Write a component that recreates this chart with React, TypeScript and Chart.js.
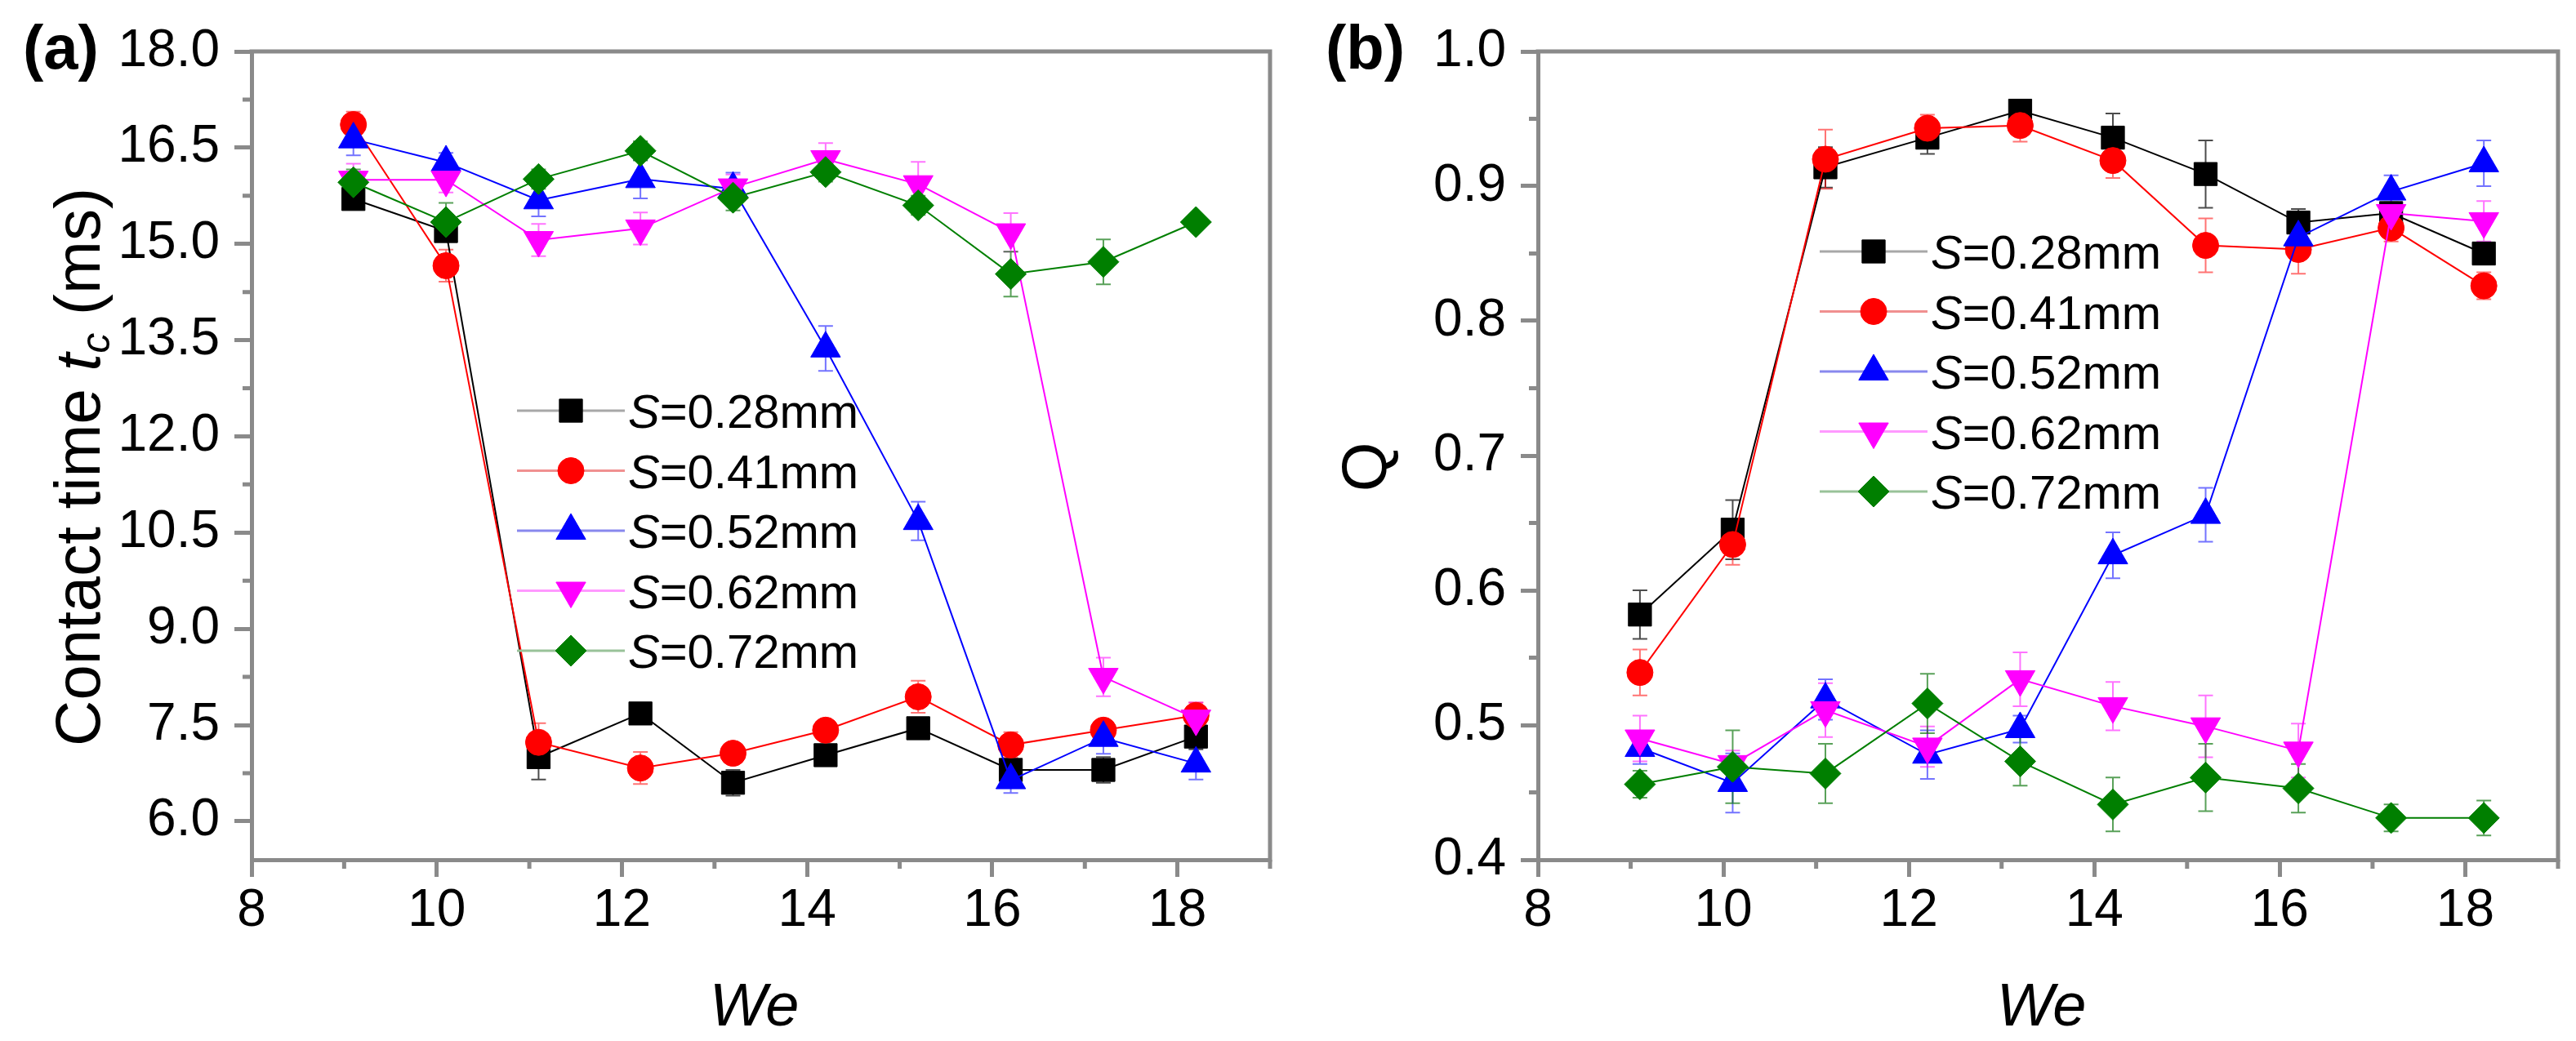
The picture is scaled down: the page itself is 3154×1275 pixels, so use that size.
import { useEffect, useRef } from 'react'
import { Chart, registerables } from 'chart.js'
import { drawPoint } from 'chart.js/helpers'

Chart.register(...registerables)

const FONT = "'Liberation Sans', Arial, Helvetica, sans-serif"
const AXIS = '#8a8a8a'

// shared x values (We) and x axis ticks
const weValues = [9.1, 10.1, 11.1, 12.2, 13.2, 14.2, 15.2, 16.2, 17.2, 18.2]
const xTicks = [8, 10, 12, 14, 16, 18]
const xMinorTicks = [9, 11, 13, 15, 17, 19]

const spacings = ['0.28', '0.41', '0.52', '0.62', '0.72']
const colors = ['#000000', '#ff0000', '#0000ff', '#ff00ff', '#007f00']
const errColors = ['rgba(0,0,0,0.7)', 'rgba(255,0,0,0.55)', 'rgba(0,0,255,0.55)', 'rgba(255,0,255,0.55)', 'rgba(0,110,0,0.65)']
const legendLineColors = ['#a8a8a8', '#f09090', '#8888ee', '#ff99ff', '#99c299']
const markers = ['rect', 'circle', 'triangle', 'triangle', 'rectRot']
const markerRotation = [0, 0, 0, 180, 0]
const markerRadius = [20, 16, 21, 21, 19]

// (a) contact time t_c (ms)
const tcTicks = [6, 7.5, 9, 10.5, 12, 13.5, 15, 16.5, 18]
const tcMinor = [6.75, 8.25, 9.75, 11.25, 12.75, 14.25, 15.75, 17.25]
const tc028 = [15.7, 15.2, 7.0, 7.68, 6.6, 7.03, 7.45, 6.8, 6.8, 7.32]
const tc041 = [16.86, 14.66, 7.23, 6.83, 7.06, 7.42, 7.94, 7.19, 7.42, 7.65]
const tc052 = [16.63, 16.27, 15.68, 16.01, 15.86, 13.37, 10.68, 6.64, 7.3, 6.9]
const tc062 = [16.0, 16.0, 15.06, 15.24, 15.88, 16.32, 15.93, 15.18, 8.25, 7.6]
const tc072 = [15.96, 15.34, 16.01, 16.45, 15.72, 16.12, 15.6, 14.53, 14.72, 15.34]
const tcErr028 = [0.1, 0.15, 0.35, 0.1, 0.2, 0.15, 0.15, 0.15, 0.2, 0.2]
const tcErr041 = [0.2, 0.25, 0.3, 0.25, 0.15, 0.15, 0.25, 0.2, 0.15, 0.2]
const tcErr052 = [0.25, 0.15, 0.25, 0.3, 0.25, 0.35, 0.3, 0.2, 0.25, 0.25]
const tcErr062 = [0.25, 0.2, 0.25, 0.25, 0.2, 0.25, 0.35, 0.3, 0.3, 0.25]
const tcErr072 = [0.2, 0.3, 0.15, 0.15, 0.2, 0.15, 0.15, 0.35, 0.35, 0.1]

// (b) Q
const qTicks = [0.4, 0.5, 0.6, 0.7, 0.8, 0.9, 1.0]
const qMinor = [0.45, 0.55, 0.65, 0.75, 0.85, 0.95]
const q028 = [0.582, 0.645, 0.914, 0.936, 0.956, 0.936, 0.909, 0.873, 0.88, 0.85]
const q041 = [0.539, 0.634, 0.92, 0.943, 0.945, 0.919, 0.856, 0.853, 0.869, 0.826]
const q052 = [0.483, 0.457, 0.519, 0.478, 0.497, 0.626, 0.656, 0.862, 0.896, 0.917]
const q062 = [0.49, 0.471, 0.511, 0.484, 0.534, 0.514, 0.499, 0.481, 0.88, 0.874]
const q072 = [0.456, 0.469, 0.464, 0.516, 0.473, 0.441, 0.461, 0.453, 0.431, 0.431]
const qErr028 = [0.018, 0.022, 0.015, 0.012, 0.008, 0.018, 0.025, 0.01, 0.008, 0.008]
const qErr041 = [0.017, 0.015, 0.022, 0.01, 0.012, 0.013, 0.02, 0.018, 0.01, 0.01]
const qErr052 = [0.012, 0.022, 0.015, 0.018, 0.01, 0.017, 0.02, 0.015, 0.012, 0.017]
const qErr062 = [0.017, 0.01, 0.02, 0.015, 0.02, 0.018, 0.023, 0.02, 0.015, 0.015]
const qErr072 = [0.01, 0.027, 0.022, 0.022, 0.018, 0.02, 0.025, 0.018, 0.01, 0.013]

type Part = [string, 'n' | 'i' | 'sub']

type Panel = {
    tag: string
    tagX: number
    yTitle: Part[]
    yMin: number
    yMax: number
    yTicks: number[]
    yMinor: number[]
    values: number[][]
    errors: number[][]
    yWidth: number
    padRight: number
    legendX: number
    legendY: number
}

const panels: Panel[] = [
    {
        tag: '(a)', tagX: 28,
        yTitle: [['Contact time ', 'n'], ['t', 'i'], ['c', 'sub'], [' (ms)', 'n']],
        yMin: 5.4, yMax: 18, yTicks: tcTicks, yMinor: tcMinor,
        values: [tc028, tc041, tc052, tc062, tc072],
        errors: [tcErr028, tcErr041, tcErr052, tcErr062, tcErr072],
        yWidth: 308, padRight: 15, legendX: 325, legendY: 440,
    },
    {
        tag: '(b)', tagX: 46,
        yTitle: [['Q', 'n']],
        yMin: 0.4, yMax: 1.0, yTicks: qTicks, yMinor: qMinor,
        values: [q028, q041, q052, q062, q072],
        errors: [qErr028, qErr041, qErr052, qErr062, qErr072],
        yWidth: 306, padRight: 21, legendX: 345, legendY: 245,
    },
]

const W = 1577
const H = 1275

function partFont(style: Part[1]) {
    if (style === 'i') return `italic 78px ${FONT}`
    if (style === 'sub') return `italic 50px ${FONT}`
    return `78px ${FONT}`
}

function makeDecor(p: Panel) {
    return {
        id: 'decor',
        beforeDatasetsDraw(chart: any) {
            // error bars, under the markers
            const { ctx, scales: { x, y } } = chart
            ctx.save()
            ctx.lineWidth = 2
            p.errors.forEach((errs, i) => {
                ctx.strokeStyle = errColors[i]
                errs.forEach((e, k) => {
                    const px = x.getPixelForValue(weValues[k])
                    const top = y.getPixelForValue(p.values[i][k] + e)
                    const bot = y.getPixelForValue(p.values[i][k] - e)
                    ctx.beginPath()
                    ctx.moveTo(px, top); ctx.lineTo(px, bot)
                    ctx.moveTo(px - 9, top); ctx.lineTo(px + 9, top)
                    ctx.moveTo(px - 9, bot); ctx.lineTo(px + 9, bot)
                    ctx.stroke()
                })
            })
            ctx.restore()
        },
        afterDraw(chart: any) {
            const { ctx, chartArea: a, scales: { x, y } } = chart
            ctx.save()
            // frame top / right
            ctx.strokeStyle = AXIS
            ctx.lineWidth = 5
            ctx.beginPath()
            ctx.moveTo(a.left - 2.5, a.top); ctx.lineTo(a.right, a.top); ctx.lineTo(a.right, a.bottom + 2.5)
            ctx.stroke()
            // minor ticks
            ctx.beginPath()
            xMinorTicks.forEach(v => {
                const px = x.getPixelForValue(v)
                ctx.moveTo(px, a.bottom); ctx.lineTo(px, a.bottom + 11)
            })
            p.yMinor.forEach(v => {
                const py = y.getPixelForValue(v)
                ctx.moveTo(a.left, py); ctx.lineTo(a.left - 11, py)
            })
            ctx.stroke()

            // legend
            p.values.forEach((_, i) => {
                const ly = a.top + p.legendY + i * 73.5
                const lx = a.left + p.legendX
                ctx.strokeStyle = legendLineColors[i]
                ctx.lineWidth = 3
                ctx.beginPath(); ctx.moveTo(lx, ly); ctx.lineTo(lx + 132, ly); ctx.stroke()
                ctx.fillStyle = colors[i]
                ctx.strokeStyle = colors[i]
                ctx.lineWidth = 1
                drawPoint(ctx, { pointStyle: markers[i], radius: markerRadius[i], rotation: markerRotation[i], borderWidth: 1 } as any, lx + 66, ly)
                ctx.fillStyle = '#000'
                ctx.textBaseline = 'alphabetic'
                ctx.textAlign = 'left'
                let tx = lx + 136
                ctx.font = `italic 58px ${FONT}`
                ctx.fillText('S', tx, ly + 21)
                tx += ctx.measureText('S').width
                ctx.font = `58px ${FONT}`
                ctx.fillText(`=${spacings[i]}mm`, tx, ly + 21)
            })

            // panel tag
            ctx.fillStyle = '#000'
            ctx.font = `bold 76px ${FONT}`
            ctx.textAlign = 'left'
            ctx.fillText(p.tag, p.tagX, 84)

            // x title
            ctx.font = `italic 74px ${FONT}`
            ctx.textAlign = 'center'
            ctx.fillText('We', (a.left + a.right) / 2 - 8, 1256)

            // y title, rotated
            ctx.save()
            ctx.translate(a.left - 214, (a.top + a.bottom) / 2 + 14)
            ctx.rotate(-Math.PI / 2)
            ctx.textAlign = 'left'
            let total = 0
            p.yTitle.forEach(([t, s]) => { ctx.font = partFont(s); total += ctx.measureText(t).width })
            let cx = -total / 2
            p.yTitle.forEach(([t, s]) => {
                ctx.font = partFont(s)
                ctx.fillText(t, cx, 28 + (s === 'sub' ? 12 : 0))
                cx += ctx.measureText(t).width
            })
            ctx.restore()
            ctx.restore()
        },
    }
}

function PanelChart({ p, left }: { p: Panel; left: number }) {
    const canvasRef = useRef<HTMLCanvasElement>(null)
    const chartRef = useRef<Chart | null>(null)

    useEffect(() => {
        if (!canvasRef.current) return
        if (chartRef.current) chartRef.current.destroy()

        chartRef.current = new Chart(canvasRef.current, {
            type: 'line',
            data: {
                datasets: p.values.map((vals, i) => ({
                    label: `S=${spacings[i]}mm`,
                    data: vals.map((v, k) => ({ x: weValues[k], y: v })),
                    borderColor: colors[i],
                    backgroundColor: colors[i],
                    borderWidth: 2,
                    pointStyle: markers[i] as any,
                    pointRotation: markerRotation[i],
                    pointRadius: markerRadius[i],
                    pointBorderWidth: 1,
                    pointBorderColor: colors[i],
                    pointBackgroundColor: colors[i],
                    tension: 0,
                    order: 4 - i,
                })),
            },
            options: {
                responsive: false,
                animation: false,
                devicePixelRatio: 1,
                layout: { padding: { top: 63, right: p.padRight, left: 0, bottom: 0 } },
                plugins: { legend: { display: false }, tooltip: { enabled: false } },
                scales: {
                    x: {
                        type: 'linear',
                        min: 8,
                        max: 19,
                        afterBuildTicks: (s: any) => { s.ticks = xTicks.map(v => ({ value: v })) },
                        afterFit: (s: any) => { s.height = 222 },
                        border: { display: true, color: AXIS, width: 5 },
                        grid: { display: true, drawOnChartArea: false, drawTicks: true, tickLength: 21, tickWidth: 5, tickColor: AXIS, color: AXIS },
                        ticks: { color: '#000', font: { family: FONT, size: 64 }, padding: 4, maxRotation: 0, autoSkip: false },
                    },
                    y: {
                        type: 'linear',
                        min: p.yMin,
                        max: p.yMax,
                        afterBuildTicks: (s: any) => { s.ticks = p.yTicks.map(v => ({ value: v })) },
                        afterFit: (s: any) => { s.width = p.yWidth },
                        border: { display: true, color: AXIS, width: 5 },
                        grid: { display: true, drawOnChartArea: false, drawTicks: true, tickLength: 21, tickWidth: 5, tickColor: AXIS, color: AXIS },
                        ticks: {
                            color: '#000', font: { family: FONT, size: 64 }, padding: 18, autoSkip: false,
                            callback: (v: any) => Number(v).toFixed(1),
                        },
                    },
                },
            },
            plugins: [makeDecor(p)],
        })

        return () => { chartRef.current?.destroy() }
    }, [p])

    return (
        <canvas
            ref={canvasRef}
            width={W}
            height={H}
            style={{ position: 'absolute', left, top: 0, width: W, height: H }}
        />
    )
}

export default function App() {
    useEffect(() => {
        document.body.style.margin = '0'
        document.body.style.background = '#fff'
    }, [])

    return (
        <div style={{ position: 'relative', width: 3154, height: 1275, background: '#fff' }}>
            <PanelChart p={panels[0]} left={0} />
            <PanelChart p={panels[1]} left={1577} />
        </div>
    )
}
